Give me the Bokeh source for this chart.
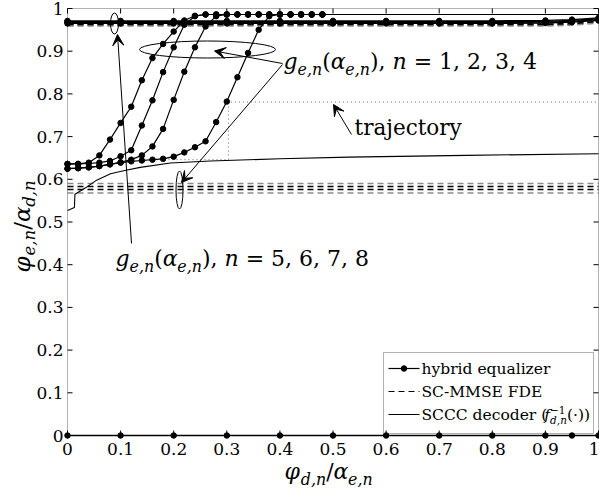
import numpy as np
from bokeh.plotting import figure
from bokeh.models import Range1d, Label, Arrow, VeeHead, BoxAnnotation
from bokeh.core.properties import value
from bokeh.embed import file_html
from bokeh.resources import INLINE

FONT = "DejaVu Serif"

# ---------------- data ----------------
# fine grid of the hybrid-equalizer EXIT curves (n = 1..4); last point closes the flat tail
x_fine = [0.00, 0.02, 0.04, 0.06, 0.08, 0.10, 0.12, 0.14, 0.16, 0.18, 0.20, 0.22, 0.24,
          0.26, 0.28, 0.30, 0.32, 0.34, 0.36, 0.38, 0.40, 0.42, 0.44, 0.46, 0.48, 1.00]
hyb_n1 = [0.636, 0.636, 0.639, 0.656, 0.693, 0.732, 0.770, 0.832, 0.884, 0.917, 0.946, 0.972, 0.983,
          0.986, 0.986, 0.986, 0.986, 0.986, 0.986, 0.986, 0.986, 0.986, 0.986, 0.986, 0.986, 0.986]
hyb_n2 = [0.636, 0.636, 0.637, 0.639, 0.643, 0.654, 0.668, 0.726, 0.785, 0.851, 0.909, 0.962, 0.982,
          0.986, 0.986, 0.986, 0.986, 0.986, 0.986, 0.986, 0.986, 0.986, 0.986, 0.986, 0.986, 0.986]
hyb_n3 = [0.625, 0.626, 0.628, 0.631, 0.635, 0.640, 0.646, 0.656, 0.677, 0.718, 0.786, 0.852, 0.909,
          0.958, 0.982, 0.986, 0.986, 0.986, 0.986, 0.986, 0.986, 0.986, 0.986, 0.986, 0.986, 0.986]
hyb_n4 = [0.625, 0.626, 0.628, 0.631, 0.635, 0.639, 0.642, 0.644, 0.646, 0.648, 0.653, 0.663, 0.675,
          0.689, 0.734, 0.782, 0.839, 0.896, 0.950, 0.982, 0.986, 0.986, 0.986, 0.986, 0.986, 0.986]

# coarse grid of the hybrid-equalizer EXIT curves (n = 5..8)
x_coarse = [0.0, 0.1, 0.2, 0.3, 0.4, 0.5, 0.6, 0.7, 0.8, 0.9, 0.95, 1.0]
hyb_n5 = [0.971, 0.971, 0.971, 0.971, 0.971, 0.971, 0.971, 0.971, 0.971, 0.972, 0.974, 0.978]
hyb_n6 = [0.969, 0.969, 0.969, 0.969, 0.969, 0.969, 0.969, 0.969, 0.969, 0.970, 0.972, 0.976]
hyb_n7 = [0.967, 0.967, 0.967, 0.967, 0.967, 0.967, 0.967, 0.967, 0.967, 0.968, 0.970, 0.974]
hyb_n8 = [0.965, 0.965, 0.965, 0.965, 0.965, 0.965, 0.965, 0.965, 0.965, 0.966, 0.968, 0.972]
hyb_base = [0.0, 0.0, 0.0, 0.0, 0.0, 0.0, 0.0, 0.0, 0.0, 0.0, 0.0, 0.0]

# SC-MMSE FDE (flat EXIT curves)
mmse_x = [0.0, 0.9, 0.95, 1.0]
mmse_hi = [[0.966, 0.966, 0.968, 0.972],
           [0.963, 0.963, 0.965, 0.970],
           [0.961, 0.961, 0.963, 0.968],
           [0.959, 0.959, 0.961, 0.966]]
mmse_lo = [[0.590, 0.590, 0.590, 0.590],
           [0.583, 0.583, 0.583, 0.583],
           [0.576, 0.576, 0.576, 0.576],
           [0.568, 0.568, 0.568, 0.568]]
mmse_colors = ["#8c8c8c", "black", "black", "#8c8c8c"]

# SCCC decoder inverse EXIT function
dec_x = [0.0, 0.013, 0.014, 0.034, 0.055, 0.081, 0.11, 0.137, 0.194, 0.269, 0.40, 0.53, 0.75, 1.0]
dec_y = [0.527, 0.534, 0.565, 0.580, 0.598, 0.613, 0.621, 0.628, 0.638, 0.643, 0.648, 0.652, 0.656, 0.660]

# decoding trajectory
traj_x = [0.16, 0.303, 0.303, 1.0]
traj_y = [0.646, 0.646, 0.781, 0.781]

tick_vals = [0.0, 0.1, 0.2, 0.3, 0.4, 0.5, 0.6, 0.7, 0.8, 0.9, 1.0]
tick_text = ["0", "0.1", "0.2", "0.3", "0.4", "0.5", "0.6", "0.7", "0.8", "0.9", "1"]

# ---------------- page geometry (pixels) ----------------
W, H = 599, 493
FL, FT, FW, FH = 67, 8, 531, 427          # plot box inside the page
FB = FT + FH

# the data ranges are widened so that the whole page is the drawing area;
# the unit square [0, 1] x [0, 1] lands exactly on the plot box
p = figure(width=W, height=H, min_border=0,
           x_range=Range1d(-FL / FW, (W - FL) / FW), y_range=Range1d((FB - H) / FH, FB / FH),
           x_axis_location=None, y_axis_location=None, outline_line_color=None,
           output_backend="svg", toolbar_location=None,
           background_fill_color="white", border_fill_color="white")
p.xgrid.visible = False
p.ygrid.visible = False


def main_xy(px, py):
    return (px - FL) / FW, (FB - py) / FH


# ---------------- axes box, ticks and tick labels ----------------
TICK = 5
n_t = len(tick_vals)
zeros = [0.0] * n_t
ones = [1.0] * n_t
p.segment(x0=tick_vals, y0=zeros, x1=tick_vals, y1=[TICK / FH] * n_t, line_color="black")
p.segment(x0=tick_vals, y0=ones, x1=tick_vals, y1=[1 - TICK / FH] * n_t, line_color="black")
p.segment(x0=zeros, y0=tick_vals, x1=[TICK / FW] * n_t, y1=tick_vals, line_color="black")
p.segment(x0=ones, y0=tick_vals, x1=[1 - TICK / FW] * n_t, y1=tick_vals, line_color="black")

tick_font = dict(text_font=value(FONT), text_font_size="17px", text_color="black")
# x tick labels; the last one is kept flush with the page edge
p.text(x=tick_vals[:-1], y=[-7 / FH] * (n_t - 1), text=tick_text[:-1], text_align="center",
       text_baseline="top", **tick_font)
p.text(x=[tick_vals[-1] + 1 / FW], y=[-7 / FH], text=tick_text[-1:], text_align="right",
       text_baseline="top", **tick_font)
p.text(x=[-4 / FW] * n_t, y=tick_vals, text=tick_text, text_align="right", text_baseline="middle",
       **tick_font)

# ---------------- curves ----------------
for yy, c in zip(mmse_lo, mmse_colors):
    p.line(mmse_x, yy, line_color=c, line_width=1.6, line_dash="6 4")
for yy, c in zip(mmse_hi, mmse_colors):
    p.line(mmse_x, yy, line_color=c, line_width=1.6, line_dash="6 4")

p.line(dec_x, dec_y, line_color="black", line_width=1.1)
p.line(traj_x, traj_y, line_color="#666666", line_width=1, line_dash="1 3")

for yy in (hyb_n1, hyb_n2, hyb_n3, hyb_n4):
    p.line(x_fine, yy, line_color="black", line_width=1.2)
    p.scatter(x_fine[:-1], yy[:-1], marker="circle", size=5.5, fill_color="black", line_color="black")
for yy in (hyb_n5, hyb_n6, hyb_n7, hyb_n8, hyb_base):
    p.line(x_coarse, yy, line_color="black", line_width=1.3)
    p.scatter(x_coarse, yy, marker="circle", size=5.5, fill_color="black", line_color="black")

# plot box
p.add_layout(BoxAnnotation(left=0, right=1, bottom=0, top=1, fill_color=None,
                           line_color="black", line_width=1))

# ---------------- math-style text ----------------
EM = {' ': 0.318, '.': 0.318, ',': 0.318, '(': 0.390, ')': 0.390, '=': 0.838, '/': 0.337,
      '·': 0.318, '-': 0.338, '−': 0.838, 'α': 0.66, 'φ': 0.74,
      'a': 0.596, 'b': 0.640, 'c': 0.560, 'd': 0.640, 'e': 0.592, 'f': 0.370, 'g': 0.640,
      'h': 0.644, 'i': 0.320, 'j': 0.310, 'k': 0.606, 'l': 0.320, 'm': 0.948, 'n': 0.644,
      'o': 0.602, 'p': 0.640, 'q': 0.640, 'r': 0.478, 's': 0.513, 't': 0.402, 'u': 0.644,
      'v': 0.565, 'w': 0.856, 'x': 0.564, 'y': 0.565, 'z': 0.527,
      'C': 0.715, 'D': 0.771, 'E': 0.683, 'F': 0.653, 'M': 0.873, 'S': 0.650}
MID = 0.30   # distance from the baseline up to the text's middle line, in em


def text_width(s, fs):
    return sum(EM.get(ch, 0.636) for ch in s) * fs


def compose(x_px, y_px, parts, size, vertical=False, small=0.72):
    """Lay out a formula from its baseline start (x_px, y_px).
    parts: (text, italic, level[, advance]) with level 0 base, -1 subscript, +1 superscript.
    A part made only of blanks just moves the pen."""
    pen = 0.0
    for part in parts:
        text, italic, level = part[:3]
        advance = part[3] if len(part) > 3 else True
        fs = size * (small if level else 1.0)
        if text.strip():
            rise = {0: 0.0, -1: -0.24 * size, 1: 0.40 * size}[level] + MID * fs
            if vertical:
                xx, yy, ang = x_px - rise, y_px - pen, np.pi / 2
            else:
                xx, yy, ang = x_px + pen, y_px - rise, 0.0
            lx, ly = main_xy(xx, yy)
            p.add_layout(Label(x=lx, y=ly, text=text, angle=ang, text_font=FONT,
                               text_font_size=f"{fs:.1f}px",
                               text_font_style="italic" if italic else "normal",
                               text_align="left", text_baseline="middle", text_color="black"))
        if advance:
            pen += text_width(text, fs)


def g_label(tail):
    return [("g", True, 0), ("e,n", True, -1), ("(", False, 0), ("α", True, 0),
            ("e,n", True, -1), ("),", False, 0), (" ", False, 0), ("n", True, 0),
            (" ", False, 0), ("=", False, 0), (" ", False, 0), (tail, False, 0)]


compose(283, 68, g_label("1, 2, 3, 4"), 22)
compose(115, 265, g_label("5, 6, 7, 8"), 22)
compose(354, 133, [("trajectory", False, 0)], 21.5)

# axis titles
compose(284, 478, [("φ", True, 0), ("d,n", True, -1), ("/", False, 0),
                   ("α", True, 0), ("e,n", True, -1)], 22)
compose(28, 272, [("φ", True, 0), ("e,n", True, -1), ("/", False, 0),
                  ("α", True, 0), ("d,n", True, -1)], 23, vertical=True)

# ---------------- callouts ----------------
ell = [main_xy(114, 23), main_xy(207, 49), main_xy(179, 189.5)]
p.ellipse(x=[e[0] for e in ell], y=[e[1] for e in ell], width=[8, 136, 7], height=[21, 17, 38],
          width_units="screen", height_units="screen", fill_color=None, line_color="black",
          line_width=1)

for (x0, y0, x1, y1) in [(131, 243, 117, 34), (282, 63, 214, 50.5), (282, 64, 181, 182),
                         (351, 134, 333, 104)]:
    xs, ys = main_xy(x0, y0)
    xe, ye = main_xy(x1, y1)
    p.add_layout(Arrow(end=VeeHead(size=11, fill_color="black", line_color="black", line_width=1),
                       x_start=xs, y_start=ys, x_end=xe, y_end=ye,
                       line_color="black", line_width=1))

# ---------------- legend ----------------
bl, bt = main_xy(383, 352)
br, bb = main_xy(593, 433)
p.add_layout(BoxAnnotation(left=bl, right=br, top=bt, bottom=bb, fill_color="white",
                           fill_alpha=1.0, line_color="black", line_width=1, level="underlay"))
rows = [368, 391, 414]
s0, _ = main_xy(388, 0)
s1, _ = main_xy(419, 0)
sm, _ = main_xy(403.5, 0)
r0 = [main_xy(0, r)[1] for r in rows]
p.line([s0, s1], [r0[0]] * 2, line_color="black", line_width=1.2)
p.scatter([sm], [r0[0]], marker="circle", size=5.5, fill_color="black", line_color="black")
p.line([s0, s1], [r0[1]] * 2, line_color="black", line_width=1.2, line_dash="6 4")
p.line([s0, s1], [r0[2]] * 2, line_color="black", line_width=1.0)
LEG = 15.5
compose(421, rows[0] + 5, [("hybrid equalizer", False, 0)], LEG)
compose(421, rows[1] + 5, [("SC-MMSE FDE", False, 0)], LEG)
compose(421, rows[2] + 5, [("SCCC decoder (", False, 0), ("f", True, 0),
                           ("−1", False, 1, False), ("d,n", True, -1),
                           ("(·))", False, 0)], LEG, small=0.68)

open("out.html", "w").write(file_html(p, INLINE))
